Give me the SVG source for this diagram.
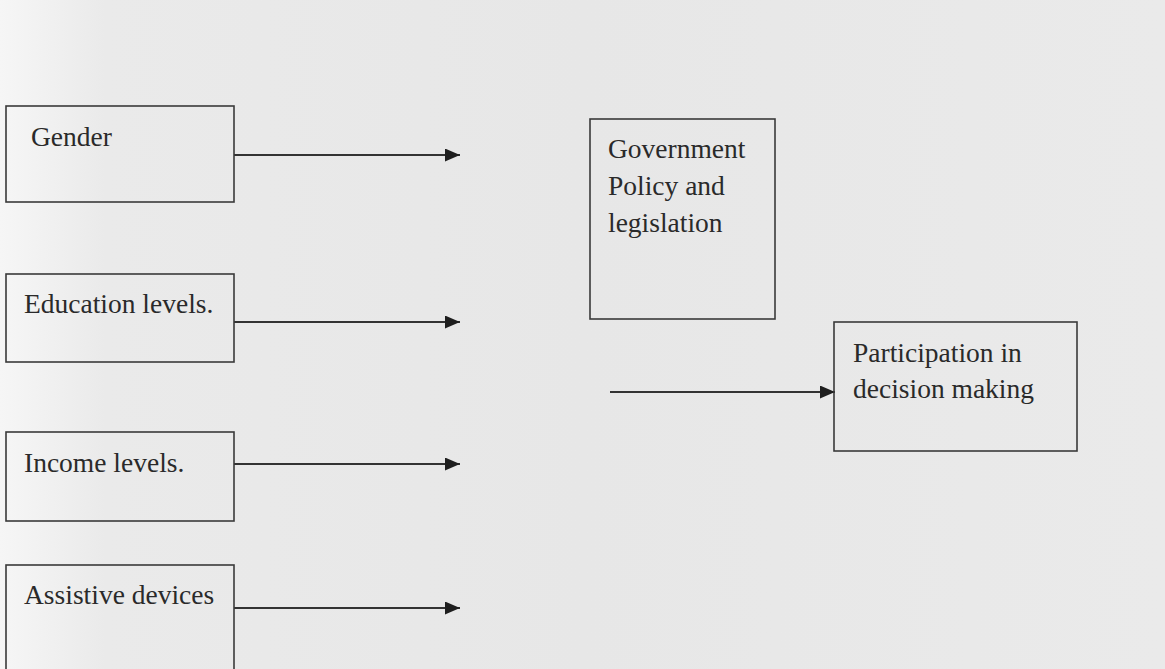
<svg xmlns="http://www.w3.org/2000/svg" width="1165" height="669" viewBox="0 0 1165 669">
  <defs>
    <linearGradient id="bg" x1="0" y1="0" x2="1" y2="0">
      <stop offset="0" stop-color="#f6f6f6"/>
      <stop offset="0.09" stop-color="#eaeaea"/>
      <stop offset="0.5" stop-color="#e7e7e7"/>
      <stop offset="1" stop-color="#eaeaea"/>
    </linearGradient>
    <marker id="arr" markerWidth="15" markerHeight="13" refX="15" refY="6.5" orient="auto" markerUnits="userSpaceOnUse">
      <path d="M0,0 L15,6.5 L0,13 z" fill="#1e1e1e"/>
    </marker>
    <style>
      .box { fill: none; stroke: #3a3a3a; stroke-width: 1.6; }
      .lbl { font-size: 27.5px; fill: #2a2a2a; }
      .conn { stroke: #333; stroke-width: 1.8; fill: none; }
    </style>
  </defs>
  <rect x="0" y="0" width="1165" height="669" fill="url(#bg)"/>

  <g id="connectors">
    <line class="conn" x1="234" y1="155" x2="460" y2="155" marker-end="url(#arr)"/>
    <line class="conn" x1="234" y1="322" x2="460" y2="322" marker-end="url(#arr)"/>
    <line class="conn" x1="234" y1="464" x2="460" y2="464" marker-end="url(#arr)"/>
    <line class="conn" x1="234" y1="608" x2="460" y2="608" marker-end="url(#arr)"/>
    <line class="conn" x1="610" y1="392" x2="835" y2="392" marker-end="url(#arr)"/>
  </g>

  <g font-family="'Liberation Serif', 'Times New Roman', 'DejaVu Serif', serif">
  <g id="gender">
    <rect class="box" x="6" y="106" width="228" height="96"/>
    <text class="lbl" x="31" y="146">Gender</text>
  </g>
  <g id="education">
    <rect class="box" x="6" y="274" width="228" height="88"/>
    <text class="lbl" x="24" y="313">Education levels.</text>
  </g>
  <g id="income">
    <rect class="box" x="6" y="432" width="228" height="89"/>
    <text class="lbl" x="24" y="472">Income levels.</text>
  </g>
  <g id="assistive">
    <rect class="box" x="6" y="565" width="228" height="120"/>
    <text class="lbl" x="24" y="604">Assistive devices</text>
  </g>
  <g id="government">
    <rect class="box" x="590" y="119" width="185" height="200"/>
    <text class="lbl" x="608" y="158">Government</text>
    <text class="lbl" x="608" y="195">Policy and</text>
    <text class="lbl" x="608" y="232">legislation</text>
  </g>
  <g id="participation">
    <rect class="box" x="834" y="322" width="243" height="129"/>
    <text class="lbl" x="853" y="362">Participation in</text>
    <text class="lbl" x="853" y="398">decision making</text>
  </g>
  </g>
</svg>
